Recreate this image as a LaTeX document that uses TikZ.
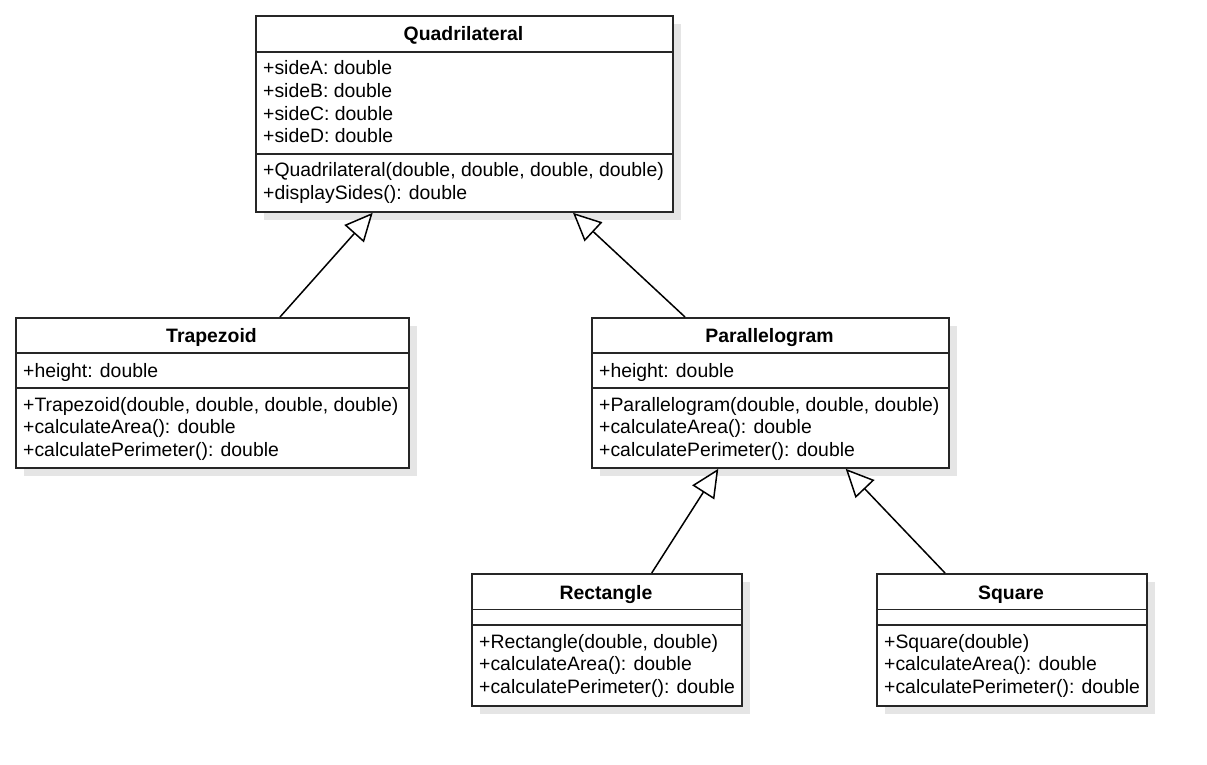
\documentclass[tikz,border=0pt]{standalone}
\usepackage{fontspec}
\setmainfont{Liberation Sans}
\usetikzlibrary{arrows.meta,calc,shadows}
\begin{document}
\begin{tikzpicture}[x=1pt,y=-1pt,
  font=\fontsize{19.4}{22.6}\selectfont,
  classbox/.style={draw=black!85, line width=1.8pt, fill=white, anchor=north west, inner sep=0pt,
    drop shadow={shadow xshift=8pt, shadow yshift=-8pt, fill=black!10, opacity=1}},
  sep/.style={draw=black!85, line width=1.6pt},
  member/.style={anchor=base west, inner sep=0pt},
  ctitle/.style={anchor=base, inner sep=0pt, font=\fontsize{19.4}{22.6}\selectfont\bfseries},
  inherit/.style={draw=black, line width=1.5pt, -{Triangle[fill=white, length=28pt, width=26pt, line width=1.5pt]}}
]
\useasboundingbox[fill=white] (0,0) rectangle (1207,765);

% Quadrilateral
\node[classbox, minimum width=417pt, minimum height=196pt] (quad) at (255,15) {};
\draw[sep] (255,52) -- (672,52);
\draw[sep] (255,154) -- (672,154);
\node[ctitle] (quadT) at (463.5,41) {Quadrilateral};
\node[member] (quadA1) at (263,75) {+sideA: double};
\node[member] (quadA2) at (263,97.6) {+sideB: double};
\node[member] (quadA3) at (263,120.2) {+sideC: double};
\node[member] (quadA4) at (263,142.8) {+sideD: double};
\node[member] (quadM1) at (263,176.7) {+Quadrilateral(double, double, double, double)};
\node[member] (quadM2) at (263,199.3) {+displaySides(): double};

% Trapezoid
\node[classbox, minimum width=393pt, minimum height=150pt] (trap) at (15,317) {};
\draw[sep] (15,353) -- (408,353);
\draw[sep] (15,388) -- (408,388);
\node[ctitle] (trapT) at (211.5,342) {Trapezoid};
\node[member] (trapA1) at (23,377) {+height: double};
\node[member] (trapM1) at (23,411) {+Trapezoid(double, double, double, double)};
\node[member] (trapM2) at (23,433.5) {+calculateArea(): double};
\node[member] (trapM3) at (23,456) {+calculatePerimeter(): double};

% Parallelogram
\node[classbox, minimum width=357pt, minimum height=150pt] (para) at (591,317) {};
\draw[sep] (591,353) -- (948,353);
\draw[sep] (591,388) -- (948,388);
\node[ctitle] (paraT) at (769.5,342) {Parallelogram};
\node[member] (paraA1) at (599,377) {+height: double};
\node[member] (paraM1) at (599,411) {+Parallelogram(double, double, double)};
\node[member] (paraM2) at (599,433.5) {+calculateArea(): double};
\node[member] (paraM3) at (599,456) {+calculatePerimeter(): double};

% Rectangle
\node[classbox, minimum width=270pt, minimum height=132pt] (rect) at (471,573) {};
\draw[sep] (471,609.5) -- (741,609.5);
\draw[sep] (471,625) -- (741,625);
\node[ctitle] (rectT) at (606,599) {Rectangle};
\node[member] (rectM1) at (479,648) {+Rectangle(double, double)};
\node[member] (rectM2) at (479,670.5) {+calculateArea(): double};
\node[member] (rectM3) at (479,693) {+calculatePerimeter(): double};

% Square
\node[classbox, minimum width=270pt, minimum height=132pt] (sq) at (876,573) {};
\draw[sep] (876,609.5) -- (1146,609.5);
\draw[sep] (876,625) -- (1146,625);
\node[ctitle] (sqT) at (1011,599) {Square};
\node[member] (sqM1) at (884,648) {+Square(double)};
\node[member] (sqM2) at (884,670.5) {+calculateArea(): double};
\node[member] (sqM3) at (884,693) {+calculatePerimeter(): double};

% Inheritance connectors
\draw[inherit] ($(trap.north west)+(265,0)$) -- ($(quad.south west)+(117.7,0)$);
\draw[inherit] ($(para.north west)+(94,0)$) -- ($(quad.south west)+(318,0)$);
\draw[inherit] ($(rect.north west)+(180.7,0)$) -- ($(para.south west)+(127.3,0)$);
\draw[inherit] ($(sq.north west)+(69,0)$) -- ($(para.south west)+(254.7,0)$);
\end{tikzpicture}
\end{document}
